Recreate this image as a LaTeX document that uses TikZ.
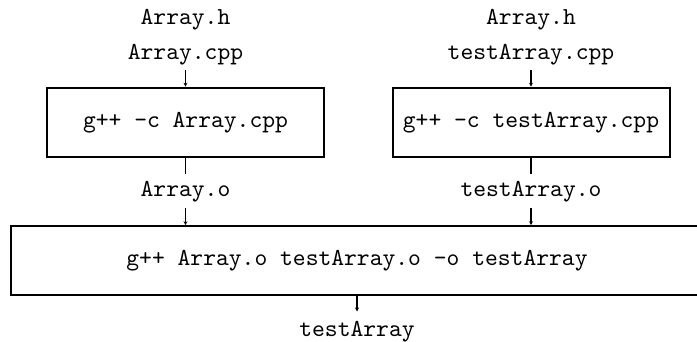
\documentclass[tikz,border=0pt]{standalone}
\usepackage{fontspec}
\usetikzlibrary{arrows.meta}
% 10pt design of Latin Modern Mono, used at every size
\newfontfamily\codefont[Extension=.otf]{lmmono10-regular}
\begin{document}
\begin{tikzpicture}[x=0.5pt,y=-0.5pt,
  lbl/.style={inner sep=0pt, outer sep=0pt, anchor=base,
              font=\codefont\fontsize{12.2}{14}\selectfont},
  cmd/.style={draw, line width=1pt, inner sep=0pt, minimum height=34.5pt,
              font=\codefont\fontsize{12.2}{14}\selectfont},
  thinlink/.style={line width=0.5pt},
  boldlink/.style={line width=1pt},
  tip/.style={-{Stealth[length=2pt,width=2pt]}}]
\useasboundingbox (0,0) rectangle (697,342);

% sources and compile step for the library
\node[lbl] (h1)   at (185.5,24.7) {Array.h};
\node[lbl] (src1) at (185.5,59.7) {Array.cpp};
\node[cmd, minimum width=138.7pt] (box1) at (185.5,122.2) {g++ -c Array.cpp};
\node[lbl] (obj1) at (185.5,196.7) {Array.o};

% sources and compile step for the test driver
\node[lbl] (h2)   at (531,24.7) {Array.h};
\node[lbl] (src2) at (531,59.7) {testArray.cpp};
\node[cmd, minimum width=138.5pt] (box2) at (531,122.2) {g++ -c testArray.cpp};
\node[lbl] (obj2) at (531,196.7) {testArray.o};

% link step and executable
\node[cmd, minimum width=346pt] (link) at (357,260.7)
  {g++ Array.o testArray.o -o testArray};
\node[lbl] (exe) at (357,336.7) {testArray};

% connectors
\draw[thinlink,tip,shorten <=2.5pt] (src1) -- (box1);
\draw[thinlink,shorten >=3.85pt] (box1) -- (obj1);
\draw[thinlink,tip,shorten <=3pt] (obj1) -- (obj1 |- link.north);

\draw[boldlink,tip,shorten <=2.5pt] (src2) -- (box2);
\draw[boldlink,shorten >=3.85pt] (box2) -- (obj2);
\draw[boldlink,tip,shorten <=3pt] (obj2) -- (obj2 |- link.north);

\draw[boldlink,tip,shorten >=5pt] (link.south -| exe) -- (exe);
\end{tikzpicture}
\end{document}
